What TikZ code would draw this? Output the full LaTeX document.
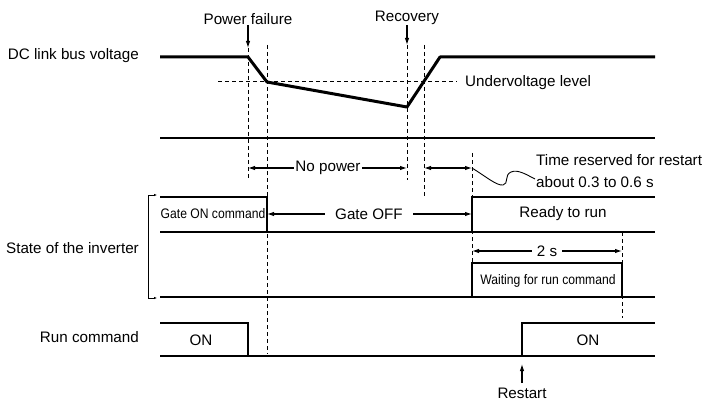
\documentclass[tikz,border=0pt]{standalone}
\usepackage{fontspec}
\setmainfont{Liberation Sans}
\newfontfamily\narrowfont[FakeStretch=0.88]{Liberation Sans}
\usetikzlibrary{arrows.meta}
\begin{document}
\begin{tikzpicture}[x=1pt,y=-1pt,
  lbl/.style={font=\fontsize{15.2}{18}\selectfont, inner sep=0pt},
  sml/.style={font=\narrowfont\fontsize{13.8}{16}\selectfont, inner sep=0pt},
  thinln/.style={line width=1.1pt},
  voltln/.style={line width=3pt, line join=round},
  dsh/.style={line width=1pt, dash pattern=on 4pt off 3pt},
  arr/.style={line width=1.1pt, -{Latex[length=7pt,width=4.5pt]}},
  darr/.style={line width=1.1pt, {Latex[length=7pt,width=4.5pt]}-{Latex[length=7pt,width=4.5pt]}},
  brk/.style={line width=0.8pt, {Latex[length=3pt,width=2.5pt]}-{Latex[length=3pt,width=2.5pt]}},
  gap/.style={fill=white, inner ysep=1pt},
]
\useasboundingbox (0,0) rectangle (704,401);

% ---- DC link bus voltage ----
\node[lbl, anchor=east] (dc) at (139,56) {DC link bus voltage};
\coordinate (v0) at (160,57);
\coordinate (pf) at (248,57);
\coordinate (uv1) at (267,82);
\coordinate (rc) at (407,107);
\coordinate (v4) at (440,57);
\coordinate (v5) at (655,57);
\draw[voltln] (v0) -- (pf) -- (uv1) -- (rc) -- (v4) -- (v5);

\coordinate (uvA) at (218,82);
\coordinate (uvB) at (457,82);
\draw[dsh] (uvA) -- (uvB);
\node[lbl, anchor=west] (uvl) at (465,83) {Undervoltage level};

\node[lbl] (pfl) at (248,19) {Power failure};
\node[lbl] (rcl) at (407,18) {Recovery};
\coordinate (pfa) at (248,48);
\coordinate (rca) at (407,45);
\draw[arr] (pfl.south) -- (pfa);
\draw[arr] (rcl.south) -- (rca);

% ---- dashed time markers ----
\coordinate (d1a) at (248,48);  \coordinate (d1b) at (248,180);
\coordinate (d2a) at (267,45);  \coordinate (d2b) at (267,354);
\coordinate (d3a) at (407,45);  \coordinate (d3b) at (407,180);
\coordinate (d4a) at (424,45);  \coordinate (d4b) at (424,196);
\coordinate (d5a) at (472,153); \coordinate (d5b) at (472,297);
\coordinate (d6a) at (622,232); \coordinate (d6b) at (622,318);
\draw[dsh] (d1a) -- (d1b);
\draw[dsh] (d2a) -- (d2b);
\draw[dsh] (d3a) -- (d3b);
\draw[dsh] (d4a) -- (d4b);
\draw[dsh] (d5a) -- (d5b);
\draw[dsh] (d6a) -- (d6b);

% separator
\coordinate (s1) at (160,138); \coordinate (s2) at (655,138);
\draw[thinln] (s1) -- (s2);

% ---- No power / restart time ----
\coordinate (np1) at (248,168); \coordinate (np2) at (407,168);
\draw[darr] (np1) -- (np2);
\node[lbl, gap, inner xsep=1.5pt] (npl) at (328,168) {No power};
\coordinate (tr1) at (424,168); \coordinate (tr2) at (472,168);
\draw[darr] (tr1) -- (tr2);
\node[lbl, anchor=west] (trl1) at (536,160) {Time reserved for restart};
\node[lbl, anchor=west] (trl2) at (536,182) {about 0.3 to 0.6 s};
\draw[line width=0.9pt] (tr2) .. controls (485,176) and (497,186) .. (503,185)
   .. controls (509,184) and (504,175) .. (511,172)
   .. controls (518,169) and (527,175) .. (535,179);

% ---- State of the inverter ----
\node[lbl, anchor=east] (soi) at (139,248) {State of the inverter};
\coordinate (bt) at (157,195); \coordinate (bb) at (157,298);
\draw[brk] (bt) -- (148,195) -- (148,298) -- (bb);

\coordinate (g0) at (160,197); \coordinate (g1) at (267,197); \coordinate (g2) at (267,232);
\coordinate (gb0) at (160,232); \coordinate (gb1) at (655,232);
\draw[thinln] (g0) -- (g1) -- (g2);
\draw[thinln] (gb0) -- (gb1);
\node[sml] (gon) at (213,214) {Gate ON command};

\coordinate (r0) at (472,232); \coordinate (r1) at (472,197); \coordinate (r2) at (655,197);
\draw[thinln] (r0) -- (r1) -- (r2);
\node[lbl] (rtr) at (563,214) {Ready to run};

\coordinate (go1) at (267,214); \coordinate (go2) at (472,214);
\draw[darr] (go1) -- (go2);
\node[lbl, gap, inner xsep=10pt] (gof) at (369,214) {Gate OFF};

\coordinate (t1) at (472,251); \coordinate (t2) at (622,251);
\draw[darr] (t1) -- (t2);
\node[lbl, gap, inner xsep=5pt] (tl) at (547,251) {2 s};

\coordinate (w0) at (472,297); \coordinate (w1) at (472,263);
\coordinate (w2) at (622,263); \coordinate (w3) at (622,297);
\draw[thinln] (w0) -- (w1) -- (w2) -- (w3);
\coordinate (wb0) at (160,297); \coordinate (wb1) at (655,297);
\draw[thinln] (wb0) -- (wb1);
\node[sml] (wrc) at (548,281) {Waiting for run command};

% ---- Run command ----
\node[lbl, anchor=east] (rcm) at (139,337) {Run command};
\coordinate (c0) at (160,323); \coordinate (c1) at (248,323); \coordinate (c2) at (248,356);
\draw[thinln] (c0) -- (c1) -- (c2);
\coordinate (cb0) at (160,356); \coordinate (cb1) at (655,356);
\draw[thinln] (cb0) -- (cb1);
\node[lbl] (on1) at (201,340) {ON};
\coordinate (e0) at (522,356); \coordinate (e1) at (522,323); \coordinate (e2) at (655,323);
\draw[thinln] (e0) -- (e1) -- (e2);
\node[lbl] (on2) at (588,340) {ON};

\node[lbl, anchor=base] (rst) at (522,398.5) {Restart};
\coordinate (rsa) at (522,364);
\coordinate (rsb) at (522,383);
\draw[arr] (rsb) -- (rsa);
\end{tikzpicture}
\end{document}
